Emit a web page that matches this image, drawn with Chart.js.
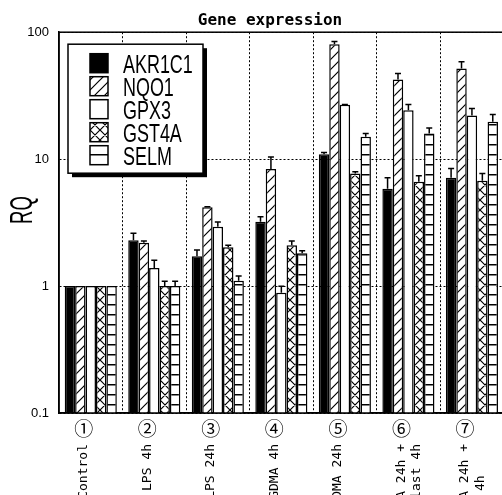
<!DOCTYPE html>
<html lang="en">
<head>
  <meta charset="UTF-8" />
  <title>Gene expression</title>
  <style>
    html, body { margin: 0; padding: 0; background: #fff; overflow: hidden; }
    #geneChart { display: block; }
  </style>
</head>
<body>
  <canvas id="geneChart" width="540" height="495"></canvas>

  <script src="https://cdn.jsdelivr.net/npm/chart.js"></script>
  <script>
    // Datos
    const circulos = ['①', '②', '③', '④', '⑤', '⑥', '⑦'];
    const condiciones = [
      'Control', 'LPS 4h', 'LPS 24h', 'GDMA 4h', 'GDMA 24h',
      ['GDMA 24h +', 'Roflumilast 4h'], ['GDMA 24h +', 'LPS 4h    ']
    ];
    const series = ['AKR1C1', 'NQO1', 'GPX3', 'GST4A', 'SELM'];

    const akr1c1 = [1, 2.30, 1.72, 3.21, 10.95, 5.84, 7.13];
    const nqo1   = [1, 2.19, 4.17, 8.35, 80.5, 42.4, 51.8];
    const gpx3   = [1, 1.39, 2.93, 0.886, 26.8, 24.3, 22.1];
    const gst4a  = [1, 1.00, 2.02, 2.10, 7.72, 6.63, 6.75];
    const selm   = [1, 1.00, 1.10, 1.81, 15.0, 15.9, 19.7];

    const akr1c1Err = [0, 0.31, 0.20, 0.30, 0.35, 1.29, 1.32];
    const nqo1Err   = [0, 0.07, 0.05, 2.05, 3.8, 4.9, 6.6];
    const gpx3Err   = [0, 0.21, 0.27, 0.11, 0.2, 2.7, 3.0];
    const gst4aErr  = [0, 0.09, 0.08, 0.17, 0.23, 0.76, 0.97];
    const selmErr   = [0, 0.09, 0.10, 0.09, 0.9, 1.7, 2.8];

    const yTicks = [0.1, 1, 10, 100];
    const yTickLabels = ['0.1', '1', '10', '100'];

    const valores = [akr1c1, nqo1, gpx3, gst4a, selm];
    const errores = [akr1c1Err, nqo1Err, gpx3Err, gst4aErr, selmErr];

    const ctx = document.getElementById('geneChart').getContext('2d');

    // tramas blanco y negro
    const patron = (tipo) => {
      if (tipo === 'solid') return '#000';
      if (tipo === 'white') return '#fff';
      const c = document.createElement('canvas');
      c.width = 10; c.height = 10;
      const g = c.getContext('2d');
      g.fillStyle = '#fff';
      g.fillRect(0, 0, 10, 10);
      g.strokeStyle = '#000';
      g.fillStyle = '#000';
      g.lineWidth = 1.2;
      g.beginPath();
      if (tipo === 'diag' || tipo === 'cross') {
        g.moveTo(-1, 11); g.lineTo(11, -1);
        g.moveTo(-1, 1); g.lineTo(1, -1);
        g.moveTo(9, 11); g.lineTo(11, 9);
      }
      if (tipo === 'cross') {
        g.moveTo(-1, -1); g.lineTo(11, 11);
        g.moveTo(9, -1); g.lineTo(11, 1);
        g.moveTo(-1, 9); g.lineTo(1, 11);
      }
      g.stroke();
      if (tipo === 'horiz') g.fillRect(0, 4, 10, 1.5);
      return ctx.createPattern(c, 'repeat');
    };
    const fondos = ['solid', 'diag', 'white', 'cross', 'horiz'].map(patron);

    const sans = "'Liberation Sans', Arial, sans-serif";

    const extras = {
      id: 'extras',
      afterDatasetsDraw(chart) {
        const { ctx, chartArea: a, scales: { y } } = chart;
        ctx.save();
        ctx.strokeStyle = '#000';
        ctx.lineWidth = 1.5;
        chart.data.datasets.forEach((ds, i) => {
          const meta = chart.getDatasetMeta(i);
          meta.data.forEach((bar, j) => {
            const e = errores[i][j];
            if (!e) return;
            const top = y.getPixelForValue(ds.data[j] + e);
            ctx.beginPath();
            ctx.moveTo(bar.x, bar.y);
            ctx.lineTo(bar.x, top);
            ctx.moveTo(bar.x - 3, top);
            ctx.lineTo(bar.x + 3, top);
            ctx.stroke();
          });
        });
        ctx.strokeRect(a.left, a.top, a.right - a.left, a.bottom - a.top);
        ctx.restore();
      },
      afterDraw(chart) {
        const { ctx, chartArea: a } = chart;
        ctx.save();
        // leyenda con sombra
        const lx = a.left + 9, ly = a.top + 12, lw = 135, lh = 129;
        ctx.fillStyle = '#000';
        ctx.fillRect(lx + 4, ly + 4, lw, lh);
        ctx.fillStyle = '#fff';
        ctx.fillRect(lx, ly, lw, lh);
        ctx.strokeStyle = '#000';
        ctx.lineWidth = 1.5;
        ctx.strokeRect(lx, ly, lw, lh);
        ctx.font = '26px ' + sans;
        ctx.textBaseline = 'alphabetic';
        chart.data.datasets.forEach((ds, i) => {
          const cy = ly + 19 + 23 * i;
          ctx.fillStyle = ds.backgroundColor;
          ctx.fillRect(lx + 22, cy - 9.5, 18, 19);
          ctx.strokeRect(lx + 22, cy - 9.5, 18, 19);
          ctx.save();
          ctx.translate(lx + 55, cy + 9.5);
          ctx.scale(0.69, 1);
          ctx.fillStyle = '#000';
          ctx.fillText(ds.label, 0, 0);
          ctx.restore();
        });
        // titulo del eje Y
        ctx.save();
        ctx.translate(31.5, 210);
        ctx.rotate(-Math.PI / 2);
        ctx.scale(0.58, 1);
        ctx.font = '32px ' + sans;
        ctx.textAlign = 'center';
        ctx.fillStyle = '#000';
        ctx.fillText('RQ', 0, 0);
        ctx.restore();
        ctx.restore();
      }
    };

    new Chart(ctx, {
      type: 'bar',
      data: {
        labels: circulos,
        datasets: series.map((nombre, i) => ({
          label: nombre,
          data: valores[i],
          backgroundColor: fondos[i],
          borderColor: '#000',
          borderWidth: 1.5,
          barPercentage: 1,
          categoryPercentage: 0.82
        }))
      },
      options: {
        responsive: false,
        animation: false,
        layout: { padding: 0 },
        plugins: {
          legend: { display: false },
          tooltip: { enabled: false },
          title: {
            display: true,
            text: 'Gene expression',
            color: '#000',
            font: { family: "'DejaVu Sans Mono', monospace", size: 16, weight: 'bold' },
            padding: { top: 11, bottom: 2 }
          }
        },
        scales: {
          x: {
            type: 'category',
            labels: circulos,
            position: 'bottom',
            grid: { color: '#000', lineWidth: 1, drawTicks: false, offset: true },
            border: { display: true, color: '#000', width: 1.5, dash: [2, 2] },
            ticks: {
              color: '#000',
              font: { family: "'Noto Sans CJK JP', 'DejaVu Sans', sans-serif", size: 19 },
              padding: 4,
              labelOffset: -7,
              maxRotation: 0,
              autoSkip: false
            },
            afterFit: (s) => { s.height = 28; }
          },
          x2: {
            type: 'category',
            labels: condiciones,
            position: 'bottom',
            grid: { display: false },
            border: { display: false },
            ticks: {
              color: '#000',
              font: { family: "'DejaVu Sans Mono', monospace", size: 13 },
              minRotation: 90,
              maxRotation: 90,
              padding: -5,
              labelOffset: -7,
              autoSkip: false
            },
            afterFit: (s) => { s.height = 54; }
          },
          y: {
            type: 'logarithmic',
            min: 0.1,
            max: 100,
            afterBuildTicks: (s) => { s.ticks = yTicks.map(v => ({ value: v })); },
            grid: { color: '#000', lineWidth: 1, drawTicks: false },
            border: { display: true, color: '#000', width: 1.5, dash: [2, 2] },
            ticks: {
              color: '#000',
              padding: 10,
              font: { family: sans, size: 13 },
              callback: (v) => {
                const k = yTicks.indexOf(v);
                return k >= 0 ? yTickLabels[k] : '';
              }
            },
            afterFit: (s) => { s.width = 59; }
          },
          margen: {
            type: 'linear',
            position: 'right',
            grid: { display: false },
            border: { display: false },
            ticks: { display: false },
            afterFit: (s) => { s.width = 36.3; }
          }
        }
      },
      plugins: [extras]
    });
  </script>
</body>
</html>
